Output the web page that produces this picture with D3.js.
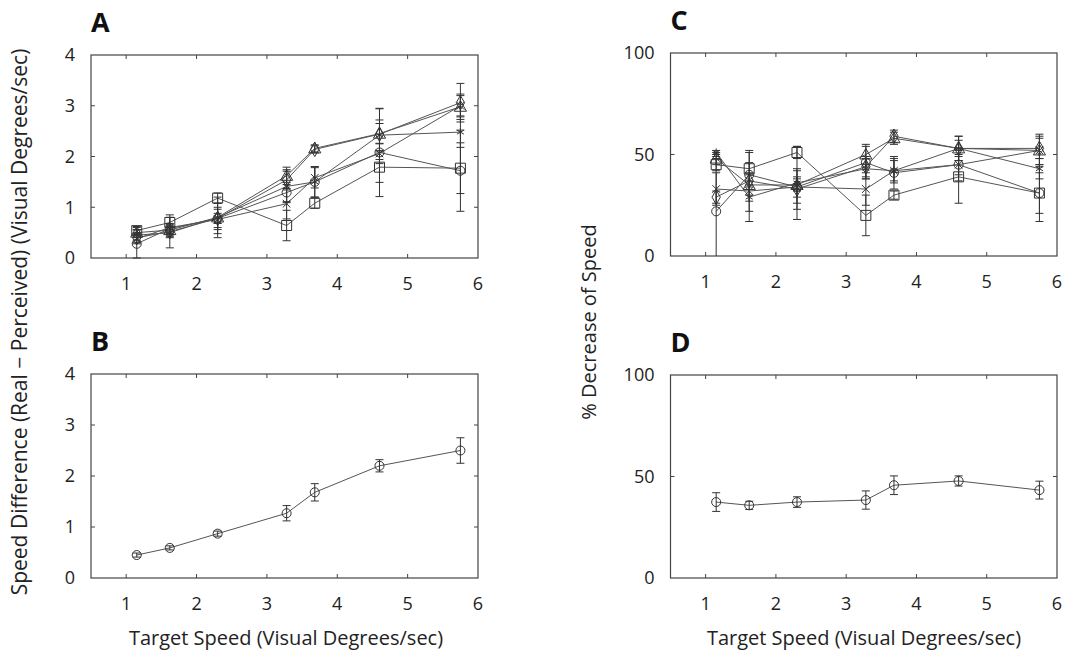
<!DOCTYPE html>
<html>
<head>
<meta charset="utf-8">
<script src="https://cdn.jsdelivr.net/npm/d3@7"></script>
<style>
  body { margin: 0; background: #fff; }
  text { font-family: "Open Sans", "Noto Sans", sans-serif; fill: #222; }
</style>
</head>
<body>
<script>
// target speeds (visual degrees/sec)
var speeds = [1.15, 1.62, 2.3, 3.28, 3.68, 4.6, 5.75];
var xTicks = [1, 2, 3, 4, 5, 6];
var markers = ["circle", "square", "diamond", "triangle", "asterisk", "x"];

// panel A: speed difference per subject, rows follow markers order
var diffSubj = [
  [0.28, 0.58, 0.78, 1.29, 1.50, 2.08, 1.72],
  [0.54, 0.70, 1.18, 0.64, 1.08, 1.79, 1.77],
  [0.40, 0.52, 0.78, 1.54, 2.14, 2.44, 3.06],
  [0.50, 0.55, 0.80, 1.62, 2.16, 2.45, 2.98],
  [0.45, 0.50, 0.80, 1.41, 1.50, 2.42, 2.48],
  [0.38, 0.60, 0.76, 1.07, 1.58, 2.06, 3.00]
];
var diffSubjErr = [
  [0.28, 0.10, 0.10, 0.20, 0.30, 0.87, 0.80],
  [0.08, 0.15, 0.10, 0.30, 0.10, 0.30, 0.50],
  [0.10, 0.10, 0.30, 0.20, 0.07, 0.50, 0.38],
  [0.10, 0.10, 0.20, 0.17, 0.07, 0.20, 0.25],
  [0.10, 0.30, 0.40, 0.30, 0.30, 0.30, 0.30],
  [0.10, 0.20, 0.20, 0.30, 0.20, 0.20, 0.20]
];
// panel B: mean speed difference
var diffMean = [0.45, 0.59, 0.87, 1.27, 1.68, 2.20, 2.50];
var diffMeanErr = [0.04, 0.04, 0.05, 0.15, 0.17, 0.12, 0.25];

// panel C: % decrease per subject
var decSubj = [
  [22, 40, 34, 46, 41, 45, 31],
  [45, 43, 51, 20, 30, 39, 31],
  [29, 37, 33, 44, 59, 53, 53],
  [48, 35, 35, 50, 58, 53, 52],
  [51, 29, 36, 43, 42, 53, 43],
  [33, 32, 34, 33, 42, 45, 52]
];
var decSubjErr = [
  [27, 6, 8, 8, 8, 8, 10],
  [3, 8, 3, 10, 2, 13, 14],
  [3, 15, 10, 5, 3, 6, 5],
  [3, 5, 3, 5, 3, 4, 7],
  [1, 12, 18, 5, 5, 6, 5],
  [8, 5, 5, 8, 6, 5, 8]
];
// panel D: mean % decrease
var decMean = [37.4, 35.8, 37.4, 38.4, 45.7, 47.8, 43.3];
var decMeanErr = [4.6, 2.0, 2.6, 4.5, 4.6, 2.5, 4.4];

var width = 1065;
var height = 653;

var svg = d3.select("body").append("svg")
    .attr("width", width)
    .attr("height", height);

var symbolType = {
  circle: d3.symbolCircle, square: d3.symbolSquare, diamond: d3.symbolDiamond,
  triangle: d3.symbolTriangle, asterisk: d3.symbolAsterisk, x: d3.symbolX
};
var symbolSize = { circle: 64, square: 100, diamond: 60, triangle: 64, asterisk: 45, x: 40 };

function drawPanel(box, yDomain, yTicks, letter, rows, errs, marks) {
  var x = d3.scaleLinear().domain([0.5, 6]).range([box.left, box.right]);
  var y = d3.scaleLinear().domain(yDomain).range([box.bottom, box.top]).clamp(true);
  var g = svg.append("g");

  // ticks inside on all four sides
  var tl = 4;
  xTicks.forEach(function(t) {
    if (t >= 6) return;
    g.append("line").attr("x1", x(t)).attr("x2", x(t)).attr("y1", box.bottom).attr("y2", box.bottom - tl)
      .attr("stroke", "#444");
    g.append("line").attr("x1", x(t)).attr("x2", x(t)).attr("y1", box.top).attr("y2", box.top + tl)
      .attr("stroke", "#444");
  });
  xTicks.forEach(function(t) {
    g.append("text").attr("x", x(t)).attr("y", box.bottom + 32)
      .attr("text-anchor", "middle").style("font-size", "18px").text(t);
  });
  yTicks.forEach(function(t, i) {
    if (i > 0 && i < yTicks.length - 1) {
      g.append("line").attr("x1", box.left).attr("x2", box.left + tl).attr("y1", y(t)).attr("y2", y(t))
        .attr("stroke", "#444");
      g.append("line").attr("x1", box.right).attr("x2", box.right - tl).attr("y1", y(t)).attr("y2", y(t))
        .attr("stroke", "#444");
    }
    g.append("text").attr("x", box.left - 16).attr("y", y(t)).attr("dy", "0.36em")
      .attr("text-anchor", "end").style("font-size", "18px").text(t);
  });

  g.append("rect").attr("x", box.left).attr("y", box.top)
    .attr("width", box.right - box.left).attr("height", box.bottom - box.top)
    .attr("fill", "none").attr("stroke", "#444").attr("stroke-width", 1.2);

  g.append("text").attr("x", box.left).attr("y", box.top - 23)
    .style("font-size", "27px").style("font-weight", "bold").style("fill", "#111").text(letter);

  var line = d3.line().x(function(d, i) { return x(speeds[i]); }).y(function(d) { return y(d); });

  rows.forEach(function(row, k) {
    g.append("path").datum(row).attr("d", line)
      .attr("fill", "none").attr("stroke", "#555").attr("stroke-width", 1);
  });
  rows.forEach(function(row, k) {
    row.forEach(function(v, i) {
      var e = errs[k][i];
      var cx = x(speeds[i]);
      g.append("line").attr("x1", cx).attr("x2", cx).attr("y1", y(v - e)).attr("y2", y(v + e))
        .attr("stroke", "#333").attr("stroke-width", 1);
      [v - e, v + e].forEach(function(w) {
        if (w < yDomain[0]) return;
        g.append("line").attr("x1", cx - 4).attr("x2", cx + 4).attr("y1", y(w)).attr("y2", y(w))
          .attr("stroke", "#333").attr("stroke-width", 1);
      });
      var m = marks[k];
      g.append("path")
        .attr("d", d3.symbol().type(symbolType[m]).size(symbolSize[m])())
        .attr("transform", "translate(" + cx + "," + y(v) + ")" + (m === "triangle" ? " translate(0,1)" : ""))
        .attr("fill", "none").attr("stroke", "#333").attr("stroke-width", 1);
    });
  });
}

drawPanel({left: 91, right: 478, top: 55, bottom: 258}, [0, 4], [0, 1, 2, 3, 4], "A",
  diffSubj, diffSubjErr, markers);
drawPanel({left: 91, right: 478, top: 374, bottom: 578}, [0, 4], [0, 1, 2, 3, 4], "B",
  [diffMean], [diffMeanErr], ["circle"]);
drawPanel({left: 670.5, right: 1057, top: 53, bottom: 256}, [0, 100], [0, 50, 100], "C",
  decSubj, decSubjErr, markers);
drawPanel({left: 670.5, right: 1057, top: 375, bottom: 578}, [0, 100], [0, 50, 100], "D",
  [decMean], [decMeanErr], ["circle"]);

// axis titles
svg.append("text").attr("transform", "translate(27,322) rotate(-90)")
  .attr("text-anchor", "middle").style("font-size", "21px")
  .text("Speed Difference (Real \u2212 Perceived) (Visual Degrees/sec)");
svg.append("text").attr("transform", "translate(596,322) rotate(-90)")
  .attr("text-anchor", "middle").style("font-size", "20px")
  .text("% Decrease of Speed");
svg.append("text").attr("x", 286).attr("y", 645)
  .attr("text-anchor", "middle").style("font-size", "20px")
  .text("Target Speed (Visual Degrees/sec)");
svg.append("text").attr("x", 864).attr("y", 645)
  .attr("text-anchor", "middle").style("font-size", "20px")
  .text("Target Speed (Visual Degrees/sec)");
</script>
</body>
</html>
